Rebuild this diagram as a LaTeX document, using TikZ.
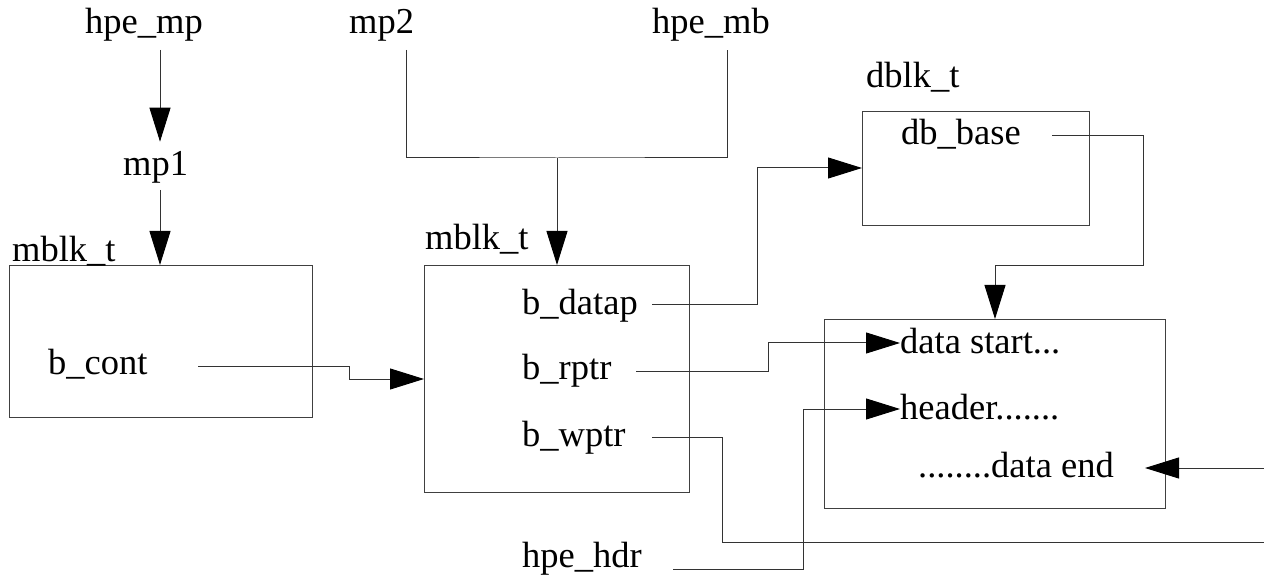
\documentclass[tikz,border=0pt]{standalone}
\usepackage{fontspec}
\setmainfont{Liberation Serif}
\usetikzlibrary{arrows.meta,calc}

\tikzset{
  lbl/.style={anchor=base west, inner sep=0pt, font=\fontsize{36.5}{40}\selectfont},
  blk/.style={draw=black!75, line width=1pt, anchor=north west, inner sep=0pt},
  wire/.style={draw=black!80, line width=1pt},
  ptr/.style={wire, -{Triangle[length=34pt,width=21pt,color=black,fill=black]}},
}

\begin{document}
\begin{tikzpicture}[x=1pt,y=-1pt]
\useasboundingbox (0,0) rectangle (1264,585);

% structure boxes
\node[blk, minimum width=303pt, minimum height=152pt] (lbox) at (9,265) {};
\node[blk, minimum width=265pt, minimum height=227pt] (mbox) at (424,265) {};
\node[blk, minimum width=227pt, minimum height=114pt] (dbox) at (862,111) {};
\node[blk, minimum width=341pt, minimum height=189pt] (buf)  at (824,319) {};

% labels
\node[lbl] (hpemp)  at (85,34)   {hpe\_mp};
\node[lbl] (mpone)  at (123,176) {mp1};
\node[lbl] (mptwo)  at (349,34)  {mp2};
\node[lbl] (hpemb)  at (652,34)  {hpe\_mb};
\node[lbl] (ltype)  at (12,262)  {mblk\_t};
\node[lbl] (mtype)  at (425,250) {mblk\_t};
\node[lbl] (dtype)  at (866,88)  {dblk\_t};
\node[lbl] (dbbase) at (901,145) {db\_base};
\node[lbl] (bcont)  at (48,374)  {b\_cont};
\node[lbl] (bdatap) at (522,315) {b\_datap};
\node[lbl] (brptr)  at (522,380) {b\_rptr};
\node[lbl] (bwptr)  at (522,446) {b\_wptr};
\node[lbl] (dstart) at (900,353) {data start...};
\node[lbl] (dhdr)   at (900,419) {header.......};
\node[lbl] (dend)   at (918,477) {........data end};
\node[lbl] (hpehdr) at (522,567) {hpe\_hdr};

% connector end points
\coordinate (mpA)    at (160,50);
\coordinate (mpAend) at (160,141.7);
\coordinate (mpB)    at (160,190);
\coordinate (mp2s)   at (406,50);
\coordinate (hpembs) at (727,50);
\coordinate (join)   at (557,158);
\coordinate (contS)  at (198,366);
\coordinate (datapS) at (652,305);
\coordinate (baseS)  at (1052,136);
\coordinate (rptrS)  at (636,371);
\coordinate (wptrS)  at (652,437);
\coordinate (wptrE)  at (1264,542);
\coordinate (hdrS)   at (673,569);
\coordinate (endS)   at (1264,468);
\coordinate (endE)   at (1145,468);

% hpe_mp -> mp1 -> first mblk_t
\draw[ptr] (mpA) -- (mpAend);
\draw[ptr] (mpB) -- (lbox.north -| mpB);

% mp2 and hpe_mb join into the second mblk_t
\draw[wire] (mp2s) |- (join) -| (hpembs);
\draw[ptr] (join) -- (mbox.north -| join);

% b_cont -> mblk_t
\draw[ptr] (contS) -- (349,366) -- (349,379) -- (mbox.west |- 0,379);

% b_datap -> dblk_t
\draw[ptr] (datapS) -- (757,305) -- (757,168) -- (dbox.west |- 0,168);

% db_base -> data buffer
\draw[ptr] (baseS) -- (1143,136) -- (1143,266) -- (995,266) -- (buf.north -| 995,0);

% b_rptr -> data start
\draw[ptr] (rptrS) -- (768,371) -- (768,343) -- (dstart.west |- 0,343);

% b_wptr -> off to the right
\draw[wire] (wptrS) -- (722,437) -- (722,542) -- (wptrE);

% hpe_hdr -> header
\draw[ptr] (hdrS) -- (803,569) -- (803,409) -- (dhdr.west |- 0,409);

% incoming pointer -> data end
\draw[ptr] (endS) -- (endE);
\end{tikzpicture}
\end{document}
